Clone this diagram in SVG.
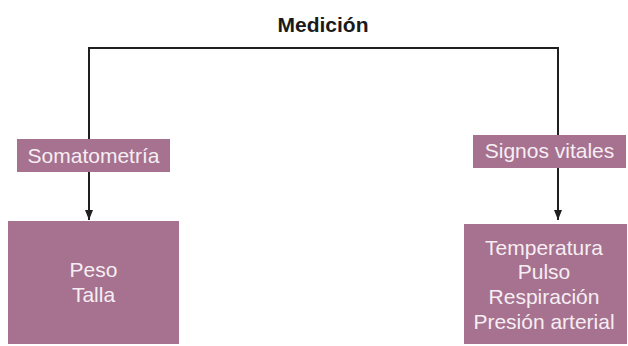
<svg xmlns="http://www.w3.org/2000/svg" width="628" height="346" viewBox="0 0 628 346">
<style>
.box{fill:#a6728f}
.t{font-family:"Liberation Sans",Arial,sans-serif;font-size:21px;fill:#f6eef3;text-anchor:middle}
.title{font-family:"Liberation Sans",Arial,sans-serif;font-size:21px;font-weight:bold;fill:#1a1a1a;text-anchor:middle}
.conn{fill:none;stroke:#1f1f1f;stroke-width:2}
</style>
<defs>
<marker id="arr" viewBox="0 0 10 8" refX="10" refY="4" markerWidth="10" markerHeight="8" markerUnits="userSpaceOnUse" orient="auto">
<path d="M0,0 L10,4 L0,8 Z" fill="#1f1f1f"/>
</marker>
</defs>
<g id="connectors">
<path class="conn" d="M324,48 H89 V220" marker-end="url(#arr)"/>
<path class="conn" d="M322,48 H558 V220" marker-end="url(#arr)"/>
</g>
<g id="medicion">
<text class="title" x="323" y="32">Medición</text>
</g>
<g id="somatometria">
<rect class="box" x="17" y="139" width="153" height="33"/>
<text class="t" x="93.5" y="162.5">Somatometría</text>
</g>
<g id="signos">
<rect class="box" x="473" y="135" width="153" height="33"/>
<text class="t" x="549.5" y="157.5">Signos vitales</text>
</g>
<g id="peso-talla">
<rect class="box" x="8" y="221" width="171" height="123"/>
<text class="t" x="93.5" y="277">Peso</text>
<text class="t" x="93.5" y="302">Talla</text>
</g>
<g id="vitales">
<rect class="box" x="464" y="224" width="163" height="120"/>
<text class="t" x="544" y="254.5">Temperatura</text>
<text class="t" x="544" y="279">Pulso</text>
<text class="t" x="544" y="303.5">Respiración</text>
<text class="t" x="544" y="328.5">Presión arterial</text>
</g>
</svg>
